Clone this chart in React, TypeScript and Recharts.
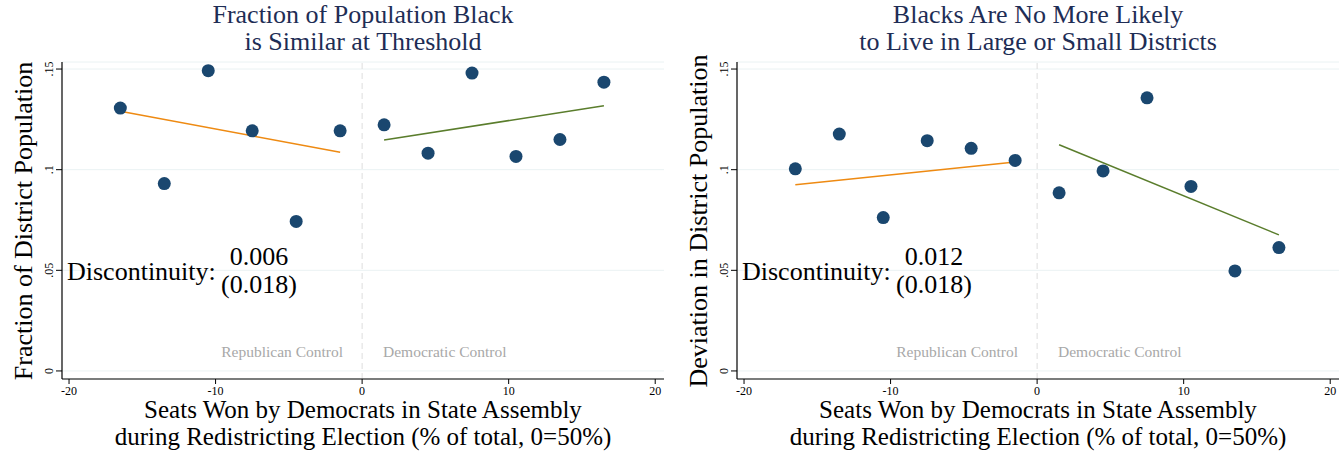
import React from "react";
import {
  ComposedChart,
  Scatter,
  XAxis,
  YAxis,
  CartesianGrid,
  ReferenceLine,
} from "recharts";

// bin midpoints (seats won by democrats, % of total, 0 = 50%)
const bins = [-16.5, -13.5, -10.5, -7.5, -4.5, -1.5, 1.5, 4.5, 7.5, 10.5, 13.5, 16.5];

const fracBlack = [0.1306, 0.0931, 0.1492, 0.1193, 0.0743, 0.1193, 0.1223, 0.1082, 0.148, 0.1066, 0.115, 0.1435];
const fracFitLeft = [0.129, 0.1087];
const fracFitRight = [0.1147, 0.1318];

const devPop = [0.1004, 0.1177, 0.0762, 0.1144, 0.1106, 0.1046, 0.0885, 0.0994, 0.1357, 0.0917, 0.0497, 0.0613];
const devFitLeft = [0.0925, 0.1038];
const devFitRight = [0.1124, 0.0676];

const fitLeftX = [-16.5, -1.5];
const fitRightX = [1.5, 16.5];

const xTicks = [-20, -10, 0, 10, 20];
const yTicks = [0, 0.05, 0.1, 0.15];
const yTickLabels = ["0", ".05", ".1", ".15"];

const xTitle = [
  "Seats Won by Democrats in State Assembly",
  "during Redistricting Election (% of total, 0=50%)",
];

const FONT = "'Liberation Serif', 'Times New Roman', serif";
const NAVY = "#1a476f";
const TITLE = "#1e2d55";

const PLOT_LEFT = 62;
const PLOT_TOP = 62;
const PLOT_W = 602;
const PLOT_H = 317;
const X_AXIS_H = 453 - PLOT_TOP - PLOT_H;

function Dot(props: any) {
  return <circle cx={props.cx} cy={props.cy} r={6.5} fill={NAVY} />;
}

function YTick(props: any) {
  const { x, y, payload } = props;
  const i = yTicks.indexOf(payload.value);
  return (
    <text
      x={x - 1}
      y={y}
      transform={`rotate(-90 ${x - 1} ${y})`}
      textAnchor="middle"
      fontFamily={FONT}
      fontSize={12}
      fill="#000"
    >
      {i >= 0 ? yTickLabels[i] : payload.value}
    </text>
  );
}

interface PanelProps {
  left: number;
  width: number;
  title: string[];
  yTitle: string;
  values: number[];
  fitL: number[];
  fitR: number[];
  est: string;
  se: string;
}

function Panel({ left, width, title, yTitle, values, fitL, fitR, est, se }: PanelProps) {
  const data = bins.map((x, i) => ({ x, y: values[i] }));
  const cx = PLOT_LEFT + PLOT_W / 2;
  return (
    <div style={{ position: "absolute", left, top: 0, width, height: 453, fontFamily: FONT }}>
      <ComposedChart
        width={width}
        height={453}
        data={data}
        margin={{ top: PLOT_TOP, right: width - PLOT_LEFT - PLOT_W, bottom: 0, left: 0 }}
      >
        <CartesianGrid horizontal vertical={false} stroke="#eaf2f3" />
        <XAxis
          dataKey="x"
          type="number"
          domain={[-20.48, 20.6]}
          ticks={xTicks}
          allowDataOverflow
          axisLine={{ stroke: "#000", strokeWidth: 1.2 }}
          tickLine={{ stroke: "#000" }}
          tickSize={5}
          tick={{ fontFamily: FONT, fontSize: 12, fill: "#000" }}
          height={X_AXIS_H}
        />
        <YAxis
          dataKey="y"
          type="number"
          domain={[-0.004, 0.1535]}
          ticks={yTicks}
          allowDataOverflow
          width={PLOT_LEFT}
          axisLine={{ stroke: "#000", strokeWidth: 1.2 }}
          tickLine={{ stroke: "#000" }}
          tickSize={6}
          tickMargin={2}
          tick={<YTick />}
        />
        <ReferenceLine x={0} stroke="#dddddd" strokeDasharray="6 4" />
        <ReferenceLine
          segment={[
            { x: fitLeftX[0], y: fitL[0] },
            { x: fitLeftX[1], y: fitL[1] },
          ]}
          stroke="#ee8a12"
          strokeWidth={1.5}
          ifOverflow="visible"
        />
        <ReferenceLine
          segment={[
            { x: fitRightX[0], y: fitR[0] },
            { x: fitRightX[1], y: fitR[1] },
          ]}
          stroke="#5a7d2c"
          strokeWidth={1.5}
          ifOverflow="visible"
        />
        <Scatter dataKey="y" shape={<Dot />} isAnimationActive={false} />
      </ComposedChart>

      {/* title */}
      <div
        style={{
          position: "absolute",
          left: cx - 300,
          width: 600,
          top: 1,
          textAlign: "center",
          fontSize: 26,
          lineHeight: "27px",
          color: TITLE,
          whiteSpace: "nowrap",
        }}
      >
        {title.map((t) => (
          <div key={t}>{t}</div>
        ))}
      </div>

      {/* y title */}
      <div
        style={{
          position: "absolute",
          left: 24 - 200,
          top: PLOT_TOP + PLOT_H / 2 - 16,
          width: 400,
          height: 32,
          lineHeight: "32px",
          textAlign: "center",
          fontSize: 26,
          transform: "rotate(-90deg)",
          color: "#000",
          whiteSpace: "nowrap",
        }}
      >
        {yTitle}
      </div>

      {/* x title */}
      <div
        style={{
          position: "absolute",
          left: cx - 330,
          width: 660,
          top: 396,
          textAlign: "center",
          fontSize: 25,
          lineHeight: "27px",
          color: "#000",
          whiteSpace: "nowrap",
        }}
      >
        {xTitle.map((t) => (
          <div key={t}>{t}</div>
        ))}
      </div>

      {/* control labels */}
      <div
        style={{
          position: "absolute",
          left: cx - 20 - 200,
          width: 200,
          top: 343,
          textAlign: "right",
          fontSize: 15.5,
          color: "#a8a8a8",
        }}
      >
        Republican Control
      </div>
      <div
        style={{
          position: "absolute",
          left: cx + 20,
          top: 343,
          fontSize: 15.5,
          color: "#a8a8a8",
          whiteSpace: "nowrap",
        }}
      >
        Democratic Control
      </div>

      {/* discontinuity annotation */}
      <div
        style={{
          position: "absolute",
          left: 67,
          top: 257,
          fontSize: 26,
          lineHeight: "30px",
          color: "#000",
        }}
      >
        Discontinuity:
      </div>
      <div
        style={{
          position: "absolute",
          left: 209,
          width: 100,
          top: 243,
          textAlign: "center",
          fontSize: 26,
          lineHeight: "28px",
          color: "#000",
        }}
      >
        <div>{est}</div>
        <div>{se}</div>
      </div>
    </div>
  );
}

export default function App() {
  return (
    <div
      style={{
        position: "absolute",
        left: 0,
        top: 0,
        width: 1341,
        height: 453,
        overflow: "hidden",
        background: "#fff",
      }}
    >
      <Panel
        left={0}
        width={670}
        title={["Fraction of Population Black", "is Similar at Threshold"]}
        yTitle="Fraction of District Population"
        values={fracBlack}
        fitL={fracFitLeft}
        fitR={fracFitRight}
        est="0.006"
        se="(0.018)"
      />
      <Panel
        left={675}
        width={666}
        title={["Blacks Are No More Likely", "to Live in Large or Small Districts"]}
        yTitle="Deviation in District Population"
        values={devPop}
        fitL={devFitLeft}
        fitR={devFitRight}
        est="0.012"
        se="(0.018)"
      />
    </div>
  );
}
